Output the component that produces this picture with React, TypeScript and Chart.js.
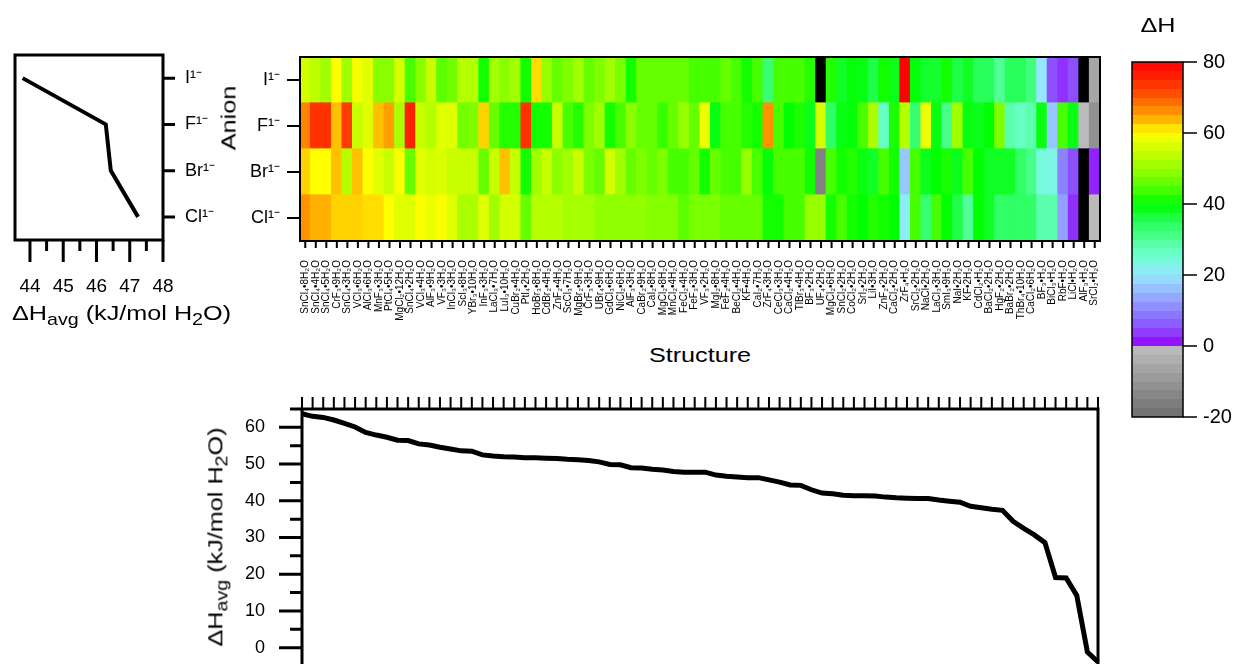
import React, { useEffect, useRef } from 'react';
import { Chart, registerables } from 'chart.js';

Chart.register(...registerables);

const FONT = "'Liberation Sans', Arial, Helvetica, sans-serif";
Chart.defaults.font.family = FONT;
Chart.defaults.color = '#000';

// ---------------- data ----------------
const structures = [
  'SnCl₄•8H₂O', 'SnCl₄•4H₂O', 'SnCl₄•5H₂O', 'CrF₃•9H₂O', 'SnCl₄•3H₂O', 'VCl₃•6H₂O', 'AlCl₃•6H₂O', 'MnF₃•3H₂O',
  'PtCl₄•5H₂O', 'MgCl₂•12H₂O', 'SnCl₄•2H₂O', 'VCl₃•4H₂O', 'AlF₃•9H₂O', 'VF₃•3H₂O', 'InCl₃•3H₂O', 'ScI₃•8H₂O',
  'YBr₃•10H₂O', 'InF₃•3H₂O', 'LaCl₃•7H₂O', 'LuI₃•10H₂O', 'CuBr₂•4H₂O', 'PtI₄•2H₂O', 'HoBr₃•8H₂O', 'CdBr₂•4H₂O',
  'ZnF₂•4H₂O', 'ScCl₃•7H₂O', 'MgBr₂•9H₂O', 'CrF₃•3H₂O', 'UBr₄•9H₂O', 'GdCl₃•6H₂O', 'NiCl₂•6H₂O', 'AlF₃•3H₂O',
  'CaBr₂•9H₂O', 'CaI₂•8H₂O', 'MgCl₂•8H₂O', 'MnCl₂•4H₂O', 'FeCl₂•4H₂O', 'FeF₃•3H₂O', 'VF₃•2H₂O', 'MgI₂•8H₂O',
  'FeF₂•4H₂O', 'BeCl₂•4H₂O', 'KF•4H₂O', 'CaI₂•7H₂O', 'ZrF₄•3H₂O', 'CeCl₃•3H₂O', 'CaCl₂•4H₂O', 'TlBr₃•4H₂O',
  'BF₃•2H₂O', 'UF₄•2H₂O', 'MgCl₂•6H₂O', 'SnCl₂•2H₂O', 'CoCl₂•2H₂O', 'SrI₂•2H₂O', 'LiI•3H₂O', 'ZnF₂•2H₂O',
  'CaCl₂•2H₂O', 'ZrF₄•H₂O', 'SrCl₂•2H₂O', 'NaCl•2H₂O', 'LaCl₃•3H₂O', 'SmI₃•9H₂O', 'NaI•2H₂O', 'KF•2H₂O',
  'CdCl₂•H₂O', 'BaCl₂•2H₂O', 'HgF₂•2H₂O', 'BaBr₂•2H₂O', 'ThBr₄•10H₂O', 'CaCl₂•6H₂O', 'BF₃•H₂O', 'BiCl₃•H₂O',
  'RbF•H₂O', 'LiCl•H₂O', 'AlF₃•H₂O', 'SrCl₂•H₂O',
];

const anions = ['I¹⁻', 'F¹⁻', 'Br¹⁻', 'Cl¹⁻'];

// ΔH per structure for each anion (null = no data)
const valuesI: (number | null)[] = [
  56, 54, 51, 60, 51, 59, 57, 49, 49, 56, 44, 49, 55, 45, 47, 53, 53, 41, 51,
  49, 51, 41, 61.5, 50, 46, 48, 51, 46, 48, 51, 47.5, 41, 46, 46, 46, 46, 46, 44,
  44, 44, 46, 44, 41, 44, 33, 44, 44, 44, 42, null, 42, 38, 39.5, 39, 36, 41, 38.5,
  80, 39.5, 37.5, 37.5, 41, 36, 38, 35, 35, 30, 35, 35, 32, 20, 5, 3, 5, null, -6,
];
const valuesF: (number | null)[] = [
  67, 74, 74, 63, 73, 55, 57, 63, 65, 52, 76, 55, 53, 57, 57, 47, 48, 62, 46,
  42, 42, 74, 41, 41, 55, 44, 42, 48, 51, 41, 44, 49, 46, 46, 43, 46, 50, 46,
  58, 39, 44, 44, 42, 41, 66, 44, 40, 41.5, 38.5, 56, 34, 39, 39.5, 44, 52, 26, 41.5,
  53, 33, 58, 39, 31, 51, 39, 38.5, 40, 48, 28, 26, 28, 39, 17, 44, 39, -1, -11,
];
const valuesBr: (number | null)[] = [
  62, 60, 60, 63, 53, 63, 60, 57, 55, 59.5, 46, 57, 56, 56.5, 55, 55, 55, 46, 55,
  63, 55, 41, 51, 55, 49, 51, 55, 47.5, 46, 56, 51, 46, 48, 46, 48, 44, 44, 46,
  41, 46, 44, 44, 50, 44, 39.5, 44, 44, 44, 41, -15, 44, 41, 42, 39, 38, 44, 41,
  17, 44, 38.5, 40, 41.5, 38.5, 44, 40, 38, 38, 38, 34, 31, 24, 23, 10, 5, null, 2,
];
const valuesCl: (number | null)[] = [
  66, 64, 64, 62, 62, 62, 61.5, 61.5, 60, 57, 57, 59.5, 58, 59.5, 57, 52, 52, 57, 51,
  56, 56, 46, 53, 53, 53, 51.5, 51.5, 51.5, 49.5, 49.5, 49.5, 49.5, 49.5, 48.5, 48.5, 48.5, 45, 47.5,
  47.5, 47.5, 46, 46, 46, 46, 41, 41, 44, 44, 50, 50, 41, 44, 41, 40, 42, 41, 40,
  21.5, 44, 33, 44, 40, 36, 30, 40, 38, 34, 34, 34, 34, 28, 28, 13, 3, null, -1,
];

// average ΔH per anion (left panel)
const anionAvg = [43.78, 46.28, 46.43, 47.25];

// average ΔH per structure, sorted (bottom panel)
const structureAvg = [
  63.7, 63.0, 62.7, 62.0, 61.1, 60.1, 58.6, 57.9, 57.3, 56.5,
  56.4, 55.5, 55.2, 54.6, 54.1, 53.6, 53.5, 52.5, 52.2, 52.0,
  51.9, 51.7, 51.7, 51.6, 51.5, 51.3, 51.2, 51.0, 50.6, 49.9,
  49.8, 49.0, 48.9, 48.6, 48.4, 48.0, 47.8, 47.8, 47.8, 47.0,
  46.7, 46.5, 46.3, 46.3, 45.7, 45.1, 44.3, 44.2, 43.0, 42.1,
  41.9, 41.5, 41.4, 41.4, 41.3, 41.0, 40.8, 40.7, 40.6, 40.6,
  40.2, 39.9, 39.6, 38.5, 38.1, 37.7, 37.4, 34.4, 32.5, 30.7,
  28.6, 19.1, 19.0, 14.2, -1.2, -3.9,
];

const colorScaleRange = [-20, 80];
const colorScaleTicks = [-20, 0, 20, 40, 60, 80];
const leftAxisMajor = [44, 45, 46, 47, 48];
const leftAxisMinor = [44.5, 45.5, 46.5, 47.5];
const bottomAxisMajor = [0, 10, 20, 30, 40, 50, 60];
const bottomAxisMinor = [5, 15, 25, 35, 45, 55, 65];

// ---------------- colour map (style) ----------------
const anchors: [number, number[]][] = [
  [0, [150, 0, 255]], [5, [140, 80, 255]], [10, [140, 130, 255]], [15, [150, 180, 255]],
  [20, [150, 230, 255]], [25, [110, 255, 210]], [30, [80, 255, 150]], [35, [40, 255, 90]],
  [40, [0, 255, 0]], [45, [90, 255, 0]], [50, [150, 255, 0]], [55, [200, 255, 0]],
  [57.5, [230, 255, 0]], [60, [255, 255, 0]], [62.5, [255, 200, 0]], [65, [255, 160, 0]],
  [70, [255, 90, 0]], [75, [255, 40, 0]], [80, [255, 0, 0]],
];
function heatColor(v: number | null): string {
  if (v === null || v === undefined) return '#000';
  if (v < 0) {
    const g = Math.round(190 + (Math.max(v, -20) / 20) * 80);
    return `rgb(${g},${g},${g})`;
  }
  if (v >= 80) return 'rgb(255,0,0)';
  for (let i = 0; i < anchors.length - 1; i++) {
    const [a, ca] = anchors[i];
    const [b, cb] = anchors[i + 1];
    if (v >= a && v <= b) {
      const t = (v - a) / (b - a);
      const c = ca.map((x, k) => Math.round(x + (cb[k] - x) * t));
      return `rgb(${c[0]},${c[1]},${c[2]})`;
    }
  }
  return '#000';
}

// ---------------- frame & tick plugin ----------------
const frameTicks = {
  id: 'frameTicks',
  afterDraw(chart: any, _args: any, opts: any) {
    const { ctx, chartArea: a } = chart;
    ctx.save();
    ctx.strokeStyle = '#000';
    ctx.lineCap = 'butt';
    for (const m of opts.marks || []) {
      const s = chart.scales[m.scale];
      ctx.lineWidth = m.width;
      ctx.beginPath();
      for (const v of m.values) {
        const p = s.getPixelForValue(v);
        if (m.side === 'bottom') { ctx.moveTo(p, a.bottom); ctx.lineTo(p, a.bottom + m.len); }
        else if (m.side === 'top') { ctx.moveTo(p, a.top); ctx.lineTo(p, a.top - m.len); }
        else if (m.side === 'left') { ctx.moveTo(a.left, p); ctx.lineTo(a.left - m.len, p); }
        else { ctx.moveTo(a.right, p); ctx.lineTo(a.right + m.len, p); }
      }
      ctx.stroke();
    }
    if (opts.frame) {
      ctx.lineWidth = opts.frame;
      ctx.strokeRect(a.left, a.top, a.right - a.left, a.bottom - a.top);
    }
    ctx.restore();
  },
};

const noGrid = { display: false, drawTicks: false };
const noBorder = { display: false };
const basePlugins = { legend: { display: false }, tooltip: { enabled: false } };

// fix an axis' thickness and drop its automatic label-overflow padding
function fixSize(dim: 'width' | 'height', size: number) {
  return (s: any) => {
    s[dim] = size;
    s.paddingLeft = 0;
    s.paddingRight = 0;
    s.paddingTop = 0;
    s.paddingBottom = 0;
  };
}

function ChartBox({ left, top, width, height, make }: any) {
  const ref = useRef<HTMLCanvasElement>(null);
  useEffect(() => {
    const chart = new Chart(ref.current as HTMLCanvasElement, make());
    return () => chart.destroy();
  }, []);
  return (
    <canvas
      ref={ref}
      width={width}
      height={height}
      style={{ position: 'absolute', left, top, width, height }}
    />
  );
}

// ---------------- chart configs ----------------
function leftConfig(): any {
  return {
    type: 'line',
    data: {
      labels: anions,
      datasets: [{
        data: anionAvg, borderColor: '#000', borderWidth: 4, pointRadius: 0, tension: 0, fill: false,
      }],
    },
    plugins: [frameTicks],
    options: {
      indexAxis: 'y',
      responsive: false,
      animation: false,
      layout: { autoPadding: false, padding: { left: 15, top: 55, right: 0, bottom: 0 } },
      plugins: {
        ...basePlugins,
        frameTicks: {
          frame: 3,
          marks: [
            { scale: 'x', side: 'bottom', len: 22, width: 3, values: leftAxisMajor },
            { scale: 'x', side: 'bottom', len: 11, width: 3, values: leftAxisMinor },
            { scale: 'y', side: 'right', len: 12, width: 3, values: [0, 1, 2, 3] },
          ],
        },
      },
      scales: {
        x: {
          type: 'linear', position: 'bottom', min: 43.55, max: 48,
          afterBuildTicks: (s: any) => { s.ticks = leftAxisMajor.map((v) => ({ value: v })); },
          ticks: { padding: 35, font: { size: 19 } },
          grid: noGrid, border: noBorder,
          afterFit: fixSize('height', 70),
        },
        y: {
          type: 'category', position: 'right', offset: true,
          ticks: { padding: 22, font: { size: 18 } },
          grid: noGrid, border: noBorder,
          afterFit: fixSize('width', 77),
        },
      },
    },
  };
}

function heatConfig(): any {
  const rows = [valuesCl, valuesBr, valuesF, valuesI];
  return {
    type: 'bar',
    data: {
      labels: structures,
      datasets: rows.map((vals) => ({
        data: vals.map(() => 1),
        backgroundColor: vals.map((v) => heatColor(v)),
        borderWidth: 0,
        barPercentage: 1,
        categoryPercentage: 1,
        inflateAmount: 0.6,
      })),
    },
    plugins: [frameTicks],
    options: {
      responsive: false,
      animation: false,
      layout: { autoPadding: false, padding: { left: 0, top: 57, right: 8, bottom: 0 } },
      plugins: {
        ...basePlugins,
        frameTicks: {
          frame: 2,
          marks: [
            { scale: 'x', side: 'bottom', len: 7, width: 2, values: structures.map((_, i) => i) },
            { scale: 'y', side: 'left', len: 13, width: 2, values: [0.5, 1.5, 2.5, 3.5] },
          ],
        },
      },
      scales: {
        x: {
          stacked: true, offset: true,
          grid: noGrid, border: noBorder,
          ticks: { autoSkip: false, maxRotation: 90, minRotation: 90, padding: 19, font: { size: 10 } },
          afterFit: fixSize('height', 89),
        },
        y: {
          stacked: true, min: 0, max: 4,
          grid: noGrid, border: noBorder,
          afterBuildTicks: (s: any) => { s.ticks = [0.5, 1.5, 2.5, 3.5].map((v) => ({ value: v })); },
          ticks: {
            padding: 20, font: { size: 18 },
            callback: (v: number) => anions[3 - Math.floor(v)],
          },
          afterFit: fixSize('width', 100),
        },
      },
    },
  };
}

function colorbarConfig(): any {
  return {
    type: 'bar',
    data: {
      labels: ['ΔH'],
      datasets: [{
        data: [colorScaleRange],
        borderWidth: 0,
        barPercentage: 1,
        categoryPercentage: 1,
        backgroundColor: (c: any) => {
          const chart = c.chart;
          if (!chart.chartArea) return '#888';
          const ys = chart.scales.y;
          const [lo, hi] = colorScaleRange;
          const y0 = ys.getPixelForValue(hi);
          const y1 = ys.getPixelForValue(lo);
          const g = chart.ctx.createLinearGradient(0, y0, 0, y1);
          const step = 2.5;
          for (let v = hi; v > lo; v -= step) {
            const t0 = (hi - v) / (hi - lo);
            const t1 = Math.min(1, (hi - v + step) / (hi - lo));
            const col = heatColor(v - step / 2);
            g.addColorStop(t0, col);
            g.addColorStop(t1, col);
          }
          return g;
        },
      }],
    },
    plugins: [frameTicks],
    options: {
      responsive: false,
      animation: false,
      layout: { autoPadding: false, padding: { left: 32, top: 62, right: 0, bottom: 23 } },
      plugins: {
        ...basePlugins,
        frameTicks: {
          frame: 1.5,
          marks: [{ scale: 'y', side: 'right', len: 14, width: 1.5, values: colorScaleTicks }],
        },
      },
      scales: {
        x: { display: false },
        y: {
          position: 'right', min: colorScaleRange[0], max: colorScaleRange[1],
          afterBuildTicks: (s: any) => { s.ticks = colorScaleTicks.map((v) => ({ value: v })); },
          ticks: { padding: 20, font: { size: 20 } },
          grid: noGrid, border: noBorder,
          afterFit: fixSize('width', 55),
        },
      },
    },
  };
}

function bottomConfig(): any {
  return {
    type: 'line',
    data: {
      labels: structures,
      datasets: [{
        data: structureAvg, borderColor: '#000', borderWidth: 5, pointRadius: 0, tension: 0, fill: false,
      }],
    },
    plugins: [frameTicks],
    options: {
      responsive: false,
      animation: false,
      layout: { autoPadding: false, padding: { left: 0, top: 0, right: 12, bottom: 14 } },
      plugins: {
        ...basePlugins,
        frameTicks: {
          frame: 3,
          marks: [
            { scale: 'x', side: 'top', len: 12, width: 2, values: structures.map((_, i) => i) },
            { scale: 'y', side: 'left', len: 23, width: 3, values: bottomAxisMajor },
            { scale: 'y', side: 'left', len: 12, width: 3, values: bottomAxisMinor },
          ],
        },
      },
      scales: {
        x: {
          position: 'top', offset: false,
          ticks: { display: false, autoSkip: false },
          grid: noGrid, border: noBorder,
          afterFit: fixSize('height', 29),
        },
        y: {
          min: -5, max: 65,
          afterBuildTicks: (s: any) => { s.ticks = bottomAxisMajor.map((v) => ({ value: v })); },
          ticks: { padding: 37, font: { size: 18 } },
          grid: noGrid, border: noBorder,
          afterFit: fixSize('width', 122),
        },
      },
    },
  };
}

// ---------------- titles ----------------
const titleFont: React.CSSProperties = {
  position: 'absolute',
  fontFamily: FONT,
  fontSize: 21,
  lineHeight: 1,
  whiteSpace: 'nowrap',
  color: '#000',
};
const sub: React.CSSProperties = { fontSize: '0.78em', verticalAlign: '-0.3em' };

function HavgTitle() {
  return (
    <>
      ΔH<span style={sub}>avg</span> (kJ/mol H<span style={sub}>2</span>O)
    </>
  );
}

export default function App() {
  return (
    <div
      style={{
        position: 'absolute', left: 0, top: 0, width: 1238, height: 664,
        overflow: 'hidden', background: '#fff',
      }}
    >
      <ChartBox left={0} top={0} width={240} height={310} make={leftConfig} />
      <ChartBox left={200} top={0} width={908} height={330} make={heatConfig} />
      <ChartBox left={1100} top={0} width={138} height={440} make={colorbarConfig} />
      <ChartBox left={180} top={380} width={930} height={300} make={bottomConfig} />

      <div style={{ ...titleFont, left: 12, top: 302, transform: 'scaleX(1.2)', transformOrigin: 'left center' }}>
        <HavgTitle />
      </div>
      <div style={{ ...titleFont, left: 228, top: 118, transform: 'translate(-50%,-50%) rotate(-90deg) scaleX(1.2)' }}>
        Anion
      </div>
      <div style={{ ...titleFont, left: 700, top: 354, transform: 'translate(-50%,-50%) scaleX(1.2)' }}>
        Structure
      </div>
      <div style={{ ...titleFont, left: 217, top: 537, transform: 'translate(-50%,-50%) rotate(-90deg) scaleX(1.2)' }}>
        <HavgTitle />
      </div>
      <div style={{ ...titleFont, left: 1158, top: 24, transform: 'translate(-50%,-50%) scaleX(1.2)' }}>
        ΔH
      </div>
    </div>
  );
}
